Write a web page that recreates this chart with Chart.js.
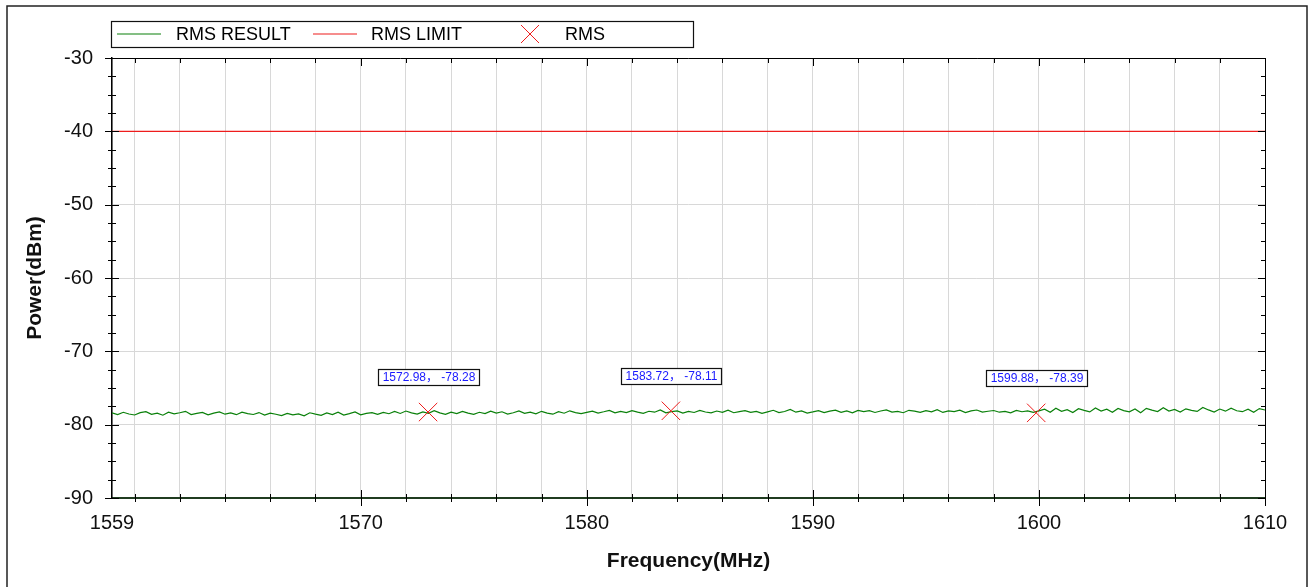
<!DOCTYPE html>
<html>
<head>
<meta charset="utf-8">
<title>RMS</title>
<script src="https://cdn.jsdelivr.net/npm/chart.js@4.4.1/dist/chart.umd.min.js"></script>
<style>
  body { margin: 0; background: #fff; }
  canvas { display: block; }
</style>
</head>
<body>
<canvas id="myChart" width="1311" height="587"></canvas>
<script>
// Data

// RMS RESULT sweep, one value every 0.25 MHz from 1559 to 1610
const freqStart = 1559;
const freqStep = 0.25;
const rmsResult = [
  -78.40,-78.62,-78.31,-78.55,-78.68,-78.36,-78.22,-78.58,-78.44,-78.71,-78.30,-78.52,
  -78.38,-78.18,-78.63,-78.47,-78.33,-78.66,-78.42,-78.25,-78.57,-78.39,-78.64,-78.29,
  -78.49,-78.61,-78.35,-78.70,-78.43,-78.58,-78.76,-78.46,-78.65,-78.52,-78.79,-78.38,
  -78.56,-78.72,-78.41,-78.63,-78.30,-78.69,-78.50,-78.27,-78.66,-78.47,-78.36,-78.59,
  -78.33,-78.51,-78.20,-78.47,-78.14,-78.39,-78.56,-78.26,-78.45,-78.10,-78.40,-78.58,
  -78.29,-78.48,-78.19,-78.43,-78.60,-78.31,-78.50,-78.16,-78.41,-78.24,-78.55,-78.37,
  -78.12,-78.46,-78.28,-78.52,-78.18,-78.42,-78.57,-78.22,-78.44,-78.11,-78.35,-78.49,
  -78.32,-78.15,-78.41,-78.24,-78.05,-78.38,-78.20,-78.35,-78.09,-78.29,-78.46,-78.17,
  -78.30,-78.00,-78.39,-78.22,-78.12,-78.43,-78.19,-78.34,-78.06,-78.27,-78.40,-78.14,
  -78.31,-78.03,-78.37,-78.21,-78.10,-78.33,-78.18,-78.45,-78.25,-78.04,-78.36,-78.20,
  -77.92,-78.30,-78.13,-78.41,
  -78.26,-78.08,-78.35,-78.15,-78.02,-78.31,-78.12,-78.38,-78.05,-78.22,-78.10,-78.34,
  -78.14,-77.98,-78.29,-78.19,-78.37,-78.04,-78.16,-78.32,-78.09,-78.25,-77.96,-78.33,
  -78.11,-78.21,-78.03,-78.36,-78.13,-78.00,-78.28,-78.17,-78.07,-78.30,-78.18,-78.39,
  -78.06,-78.24,-78.12,-78.31,
  -78.12,-77.88,-78.30,-77.76,-78.18,-77.95,-78.34,-77.82,-78.06,-78.26,-77.72,-78.15,
  -77.90,-78.32,-77.80,-78.08,-78.24,-77.86,-78.38,-77.78,-78.02,-78.21,-77.68,-78.14,
  -77.93,-78.28,-77.84,-78.05,-78.19,-77.65,-77.99,-78.27,-77.87,-78.16,-77.75,-78.10,
  -78.23,-77.89,-78.31,-77.81,-78.00
];

// RMS LIMIT
const limitFreq = [1559, 1610];
const limitPower = [-40, -40];

// RMS markers
const markFreq = [1572.98, 1583.72, 1599.88];
const markPower = [-78.28, -78.11, -78.39];

// axes
const xMin = 1559, xMax = 1610;
const yMin = -90, yMax = -30;
const xTickLabels = [1559, 1570, 1580, 1590, 1600, 1610];
const xGridStep = 2;
const yTickStep = 10;
const yMinorStep = 2.5;

const seriesNames = ['RMS RESULT', 'RMS LIMIT', 'RMS'];

// Fin des données

const FONT = 'Arial, "Liberation Sans", "Noto Sans CJK SC", sans-serif';
const GREEN = '#0a800a';
const RED = '#ee1c1c';

const rmsPoints = rmsResult.map((p, i) => ({ x: freqStart + i * freqStep, y: p }));
const limitPoints = limitFreq.map((f, i) => ({ x: f, y: limitPower[i] }));
const markPoints = markFreq.map((f, i) => ({ x: f, y: markPower[i] }));

// grid every 2 MHz from 1560
const xGridValues = [xMin];
for (let v = Math.ceil(xMin / xGridStep) * xGridStep; v <= xMax; v += xGridStep) xGridValues.push(v);

function fmt(v) { return v.toFixed(2); }

// Partie dessin du cadre, des graduations, de la légende et des étiquettes
const decor = {
  id: 'decor',
  beforeDraw(chart) {
    const ctx = chart.ctx;
    ctx.save();
    ctx.fillStyle = '#fff';
    ctx.fillRect(0, 0, chart.width, chart.height);
    ctx.restore();
  },
  afterDraw(chart) {
    const ctx = chart.ctx;
    const xs = chart.scales.x, ys = chart.scales.y;
    const a = chart.chartArea;
    ctx.save();

    // outer frame
    ctx.strokeStyle = '#222';
    ctx.lineWidth = 1.5;
    ctx.strokeRect(7, 6, 1300, 600);

    // top and right axis lines
    ctx.strokeStyle = '#000';
    ctx.lineWidth = 1;
    ctx.beginPath();
    ctx.moveTo(a.left, a.top + 0.5); ctx.lineTo(a.right + 0.5, a.top + 0.5);
    ctx.moveTo(a.right + 0.5, a.top); ctx.lineTo(a.right + 0.5, a.bottom);
    ctx.stroke();

    // y ticks (left crossing, right inward)
    ctx.beginPath();
    for (let v = yMin; v <= yMax + 0.001; v += yMinorStep) {
      const py = Math.round(ys.getPixelForValue(v)) + 0.5;
      const major = Math.abs(v % yTickStep) < 0.001;
      const l = major ? 7 : 4;
      ctx.moveTo(a.left - l, py); ctx.lineTo(a.left + l, py);
      ctx.moveTo(a.right - (major ? 7 : 4), py); ctx.lineTo(a.right, py);
    }
    // x ticks (bottom crossing, top inward)
    xGridValues.forEach(v => {
      if (v === xMin) return;
      const px = Math.round(xs.getPixelForValue(v)) + 0.5;
      const major = xTickLabels.includes(v);
      const l = major ? 8 : 4;
      ctx.moveTo(px, a.bottom - l); ctx.lineTo(px, a.bottom + l);
      ctx.moveTo(px, a.top); ctx.lineTo(px, a.top + (major ? 8 : 5));
    });
    ctx.stroke();

    // legend
    ctx.lineWidth = 1.2;
    ctx.strokeStyle = '#111';
    ctx.strokeRect(111.5, 21.5, 582, 26);
    const ly = 34;
    ctx.font = '18px ' + FONT;
    ctx.fillStyle = '#000';
    ctx.textBaseline = 'middle';
    ctx.textAlign = 'left';
    ctx.lineWidth = 1.2;
    ctx.strokeStyle = GREEN;
    ctx.beginPath(); ctx.moveTo(117, ly); ctx.lineTo(161, ly); ctx.stroke();
    ctx.fillText(seriesNames[0], 176, ly + 1);
    ctx.strokeStyle = RED;
    ctx.beginPath(); ctx.moveTo(313, ly); ctx.lineTo(357, ly); ctx.stroke();
    ctx.fillText(seriesNames[1], 371, ly + 1);
    ctx.lineWidth = 1;
    ctx.beginPath();
    ctx.moveTo(521, ly - 9); ctx.lineTo(539, ly + 9);
    ctx.moveTo(539, ly - 9); ctx.lineTo(521, ly + 9);
    ctx.stroke();
    ctx.fillText(seriesNames[2], 565, ly + 1);

    // marker labels
    ctx.font = '12px ' + FONT;
    ctx.textAlign = 'center';
    markFreq.forEach((f, i) => {
      const px = xs.getPixelForValue(f);
      const py = ys.getPixelForValue(markPower[i]);
      const txt = fmt(f) + '， ' + fmt(markPower[i]);
      const w = Math.round(ctx.measureText(txt).width) + 8;
      const h = 16;
      const bx = Math.round(px - w / 2) + 0.5;
      const by = Math.round(py - 27 - h) + 0.5;
      ctx.fillStyle = '#fff';
      ctx.fillRect(bx, by, w, h);
      ctx.strokeStyle = '#111';
      ctx.lineWidth = 1.2;
      ctx.strokeRect(bx, by, w, h);
      ctx.fillStyle = '#1a1aff';
      ctx.fillText(txt, bx + w / 2, by + h / 2 + 0.5);
    });

    ctx.restore();
  }
};

const data = {
  datasets: [{
    label: seriesNames[0],
    data: rmsPoints,
    showLine: true,
    borderColor: GREEN,
    borderWidth: 1.2,
    pointRadius: 0,
    order: 3
  }, {
    label: seriesNames[1],
    data: limitPoints,
    showLine: true,
    borderColor: RED,
    borderWidth: 1.2,
    pointRadius: 0,
    order: 2
  }, {
    label: seriesNames[2],
    data: markPoints,
    showLine: false,
    pointStyle: 'crossRot',
    pointRadius: 13,
    borderColor: RED,
    borderWidth: 1,
    order: 1
  }]
};

const config = {
  type: 'scatter',
  data: data,
  options: {
    responsive: false,
    animation: false,
    events: [],
    layout: { padding: { top: 58, right: 46, bottom: 0, left: 0 } },
    plugins: {
      legend: { display: false },
      tooltip: { enabled: false }
    },
    scales: {
      x: {
        type: 'linear',
        min: xMin,
        max: xMax,
        afterBuildTicks: s => { s.ticks = xGridValues.map(v => ({ value: v })); },
        afterFit: s => { s.height = 89; },
        ticks: {
          autoSkip: false,
          maxRotation: 0,
          padding: 13,
          color: '#111',
          font: { family: FONT, size: 20 },
          callback: v => xTickLabels.includes(v) ? String(v) : ''
        },
        grid: { color: '#d8d8d8', lineWidth: 1, drawTicks: false },
        border: { display: true, color: '#203c20', width: 2 },
        title: {
          display: true,
          text: 'Frequency(MHz)',
          color: '#111',
          font: { family: FONT, size: 21, weight: 'bold' },
          padding: { top: 0, bottom: 13 }
        }
      },
      y: {
        min: yMin,
        max: yMax,
        afterFit: s => { s.width = 112; },
        ticks: {
          stepSize: yTickStep,
          padding: 19,
          color: '#111',
          font: { family: FONT, size: 20 }
        },
        grid: { color: '#d8d8d8', lineWidth: 1, drawTicks: false },
        border: { display: true, color: '#000', width: 1.5 },
        title: {
          display: true,
          text: 'Power(dBm)',
          color: '#111',
          font: { family: FONT, size: 21, weight: 'bold' },
          padding: { top: 23, bottom: 0 }
        }
      }
    }
  },
  plugins: [decor]
};

var myChart = new Chart(document.getElementById('myChart'), config);
</script>
</body>
</html>
